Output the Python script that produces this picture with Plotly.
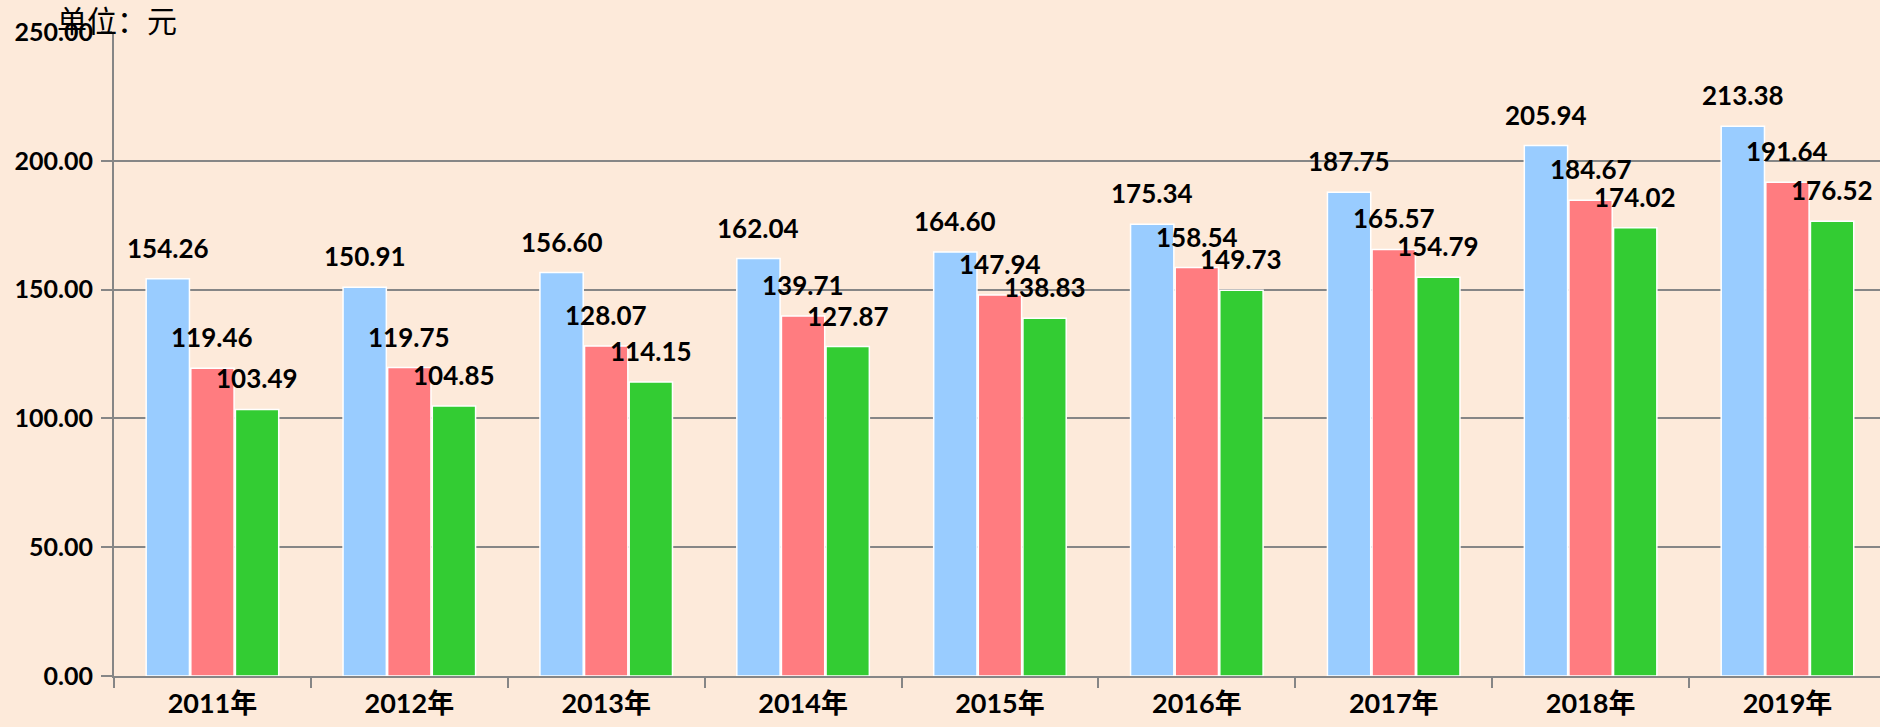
import plotly.graph_objs as go

years = ["2011年", "2012年", "2013年", "2014年", "2015年", "2016年", "2017年", "2018年", "2019年"]
blue_vals = [154.26, 150.91, 156.60, 162.04, 164.60, 175.34, 187.75, 205.94, 213.38]
red_vals = [119.46, 119.75, 128.07, 139.71, 147.94, 158.54, 165.57, 184.67, 191.64]
green_vals = [103.49, 104.85, 114.15, 127.87, 138.83, 149.73, 154.79, 174.02, 176.52]

series = [
    ("blue", blue_vals, "#99CCFF"),
    ("red", red_vals, "#FF7C80"),
    ("green", green_vals, "#33CC33"),
]

FONT = "Lato, 'Noto Sans CJK SC', sans-serif"
BARGAP = 0.32

fig = go.Figure()
for name, vals, color in series:
    fig.add_trace(go.Bar(
        name=name, x=years, y=vals,
        marker=dict(color=color, line=dict(color="white", width=1.5)),
    ))

# value labels sitting above each bar
annotations = []
slot = (1 - BARGAP) / len(series)
for i, (name, vals, color) in enumerate(series):
    off = (i - (len(series) - 1) / 2) * slot
    for j, v in enumerate(vals):
        annotations.append(dict(
            x=j + off, y=v, xref="x", yref="y",
            text="%.2f" % v, showarrow=False,
            yshift=31, xanchor="center", yanchor="middle",
            font=dict(family=FONT, size=26, color="black", weight="bold"),
        ))

fig.update_layout(
    width=1880, height=727,
    margin=dict(l=114, r=0, t=32, b=51),
    paper_bgcolor="#FDEADA", plot_bgcolor="#FDEADA",
    barmode="group", bargap=BARGAP, bargroupgap=0.03,
    showlegend=False,
    annotations=annotations,
    title=dict(
        text="单位：元", x=57 / 1880, xanchor="left", xref="container",
        y=1 - 21 / 727, yanchor="middle", yref="container",
        font=dict(family="'Noto Sans CJK SC'", size=30, color="black"),
    ),
)
fig.update_xaxes(
    range=[-0.5, 8.47], automargin=False,
    showline=True, linecolor="#868686", linewidth=2,
    ticks="outside", tickson="boundaries", ticklen=10, tickcolor="#868686", tickwidth=2,
    tickfont=dict(family=FONT, size=27, color="black", weight="bold"),
    ticklabelstandoff=3,
    showgrid=False,
)
fig.update_yaxes(
    range=[0, 250], dtick=50, tickformat=".2f", automargin=False,
    showline=True, linecolor="#868686", linewidth=2,
    ticks="outside", ticklen=11, tickcolor="#868686", tickwidth=2,
    tickfont=dict(family=FONT, size=25, color="black", weight="bold"),
    ticklabelstandoff=3,
    showgrid=True, gridcolor="#868686", gridwidth=1.5,
    zeroline=False,
)

# drop the default page margin so the figure fills the window
fig.write_html("out.html", config={"displayModeBar": False},
               post_script="document.body.style.margin='0';")
